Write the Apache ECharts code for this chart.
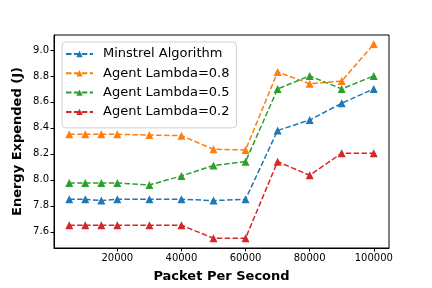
<!DOCTYPE html>
<html>
<head>
<meta charset="utf-8">
<script src="https://cdn.jsdelivr.net/npm/echarts@6/dist/echarts.min.js"></script>
<style>
html,body{margin:0;padding:0;background:#fff;}
#c{width:432px;height:288px;}
</style>
</head>
<body>
<div id="c"></div>
<script>
var packets = [5000, 10000, 15000, 20000, 30000, 40000, 50000, 60000, 70000, 80000, 90000, 100000];
var minstrel = [7.85, 7.85, 7.84, 7.85, 7.85, 7.85, 7.84, 7.85, 8.38, 8.46, 8.59, 8.70];
var lambda08 = [8.35, 8.35, 8.35, 8.35, 8.345, 8.34, 8.235, 8.23, 8.83, 8.74, 8.76, 9.045];
var lambda05 = [7.975, 7.975, 7.975, 7.975, 7.96, 8.03, 8.11, 8.14, 8.70, 8.80, 8.70, 8.80];
var lambda02 = [7.65, 7.65, 7.65, 7.65, 7.65, 7.65, 7.55, 7.55, 8.14, 8.035, 8.205, 8.205];
var seriesNames = ['Minstrel Algorithm', 'Agent Lambda=0.8', 'Agent Lambda=0.5', 'Agent Lambda=0.2'];
var colors = ['#1f77b4', '#ff7f0e', '#2ca02c', '#d62728'];
var xTicks = [20000, 40000, 60000, 80000, 100000];
var yTicks = [7.6, 7.8, 8.0, 8.2, 8.4, 8.6, 8.8, 9.0];

var allData = [minstrel, lambda08, lambda05, lambda02];
var font = 'DejaVu Sans';

function mk(name, vals, color) {
  return {
    name: name,
    type: 'line',
    data: packets.map(function (p, i) { return [p, vals[i]]; }),
    symbol: 'triangle',
    symbolSize: 8,
    color: color,
    lineStyle: { width: 1.5, type: [5.5, 2.4], color: color },
    itemStyle: { color: color },
    animation: false
  };
}

var chart = echarts.init(document.getElementById('c'), null, { renderer: 'canvas' });
chart.setOption({
  backgroundColor: '#fff',
  animation: false,
  grid: { left: 54, right: 43, top: 35, bottom: 36, show: true, borderColor: '#000', borderWidth: 1, containLabel: false },
  legend: {
    left: 62, top: 42,
    orient: 'vertical',
    backgroundColor: 'rgba(255,255,255,0.8)',
    borderColor: '#d0d0d0', borderWidth: 1, borderRadius: 4,
    padding: [5, 7, 9, 3],
    itemWidth: 27, itemHeight: 8, itemGap: 5.3,
    textStyle: { fontFamily: font, fontSize: 13, color: '#000', lineHeight: 14, padding: [0, 0, 0, 5] },
    data: seriesNames
  },
  xAxis: {
    type: 'value',
    min: 250, max: 104750,
    name: 'Packet Per Second',
    nameLocation: 'middle',
    nameGap: 22,
    nameMoveOverlap: false,
    nameTextStyle: { fontFamily: font, fontSize: 13, fontWeight: 'bold', color: '#000' },
    axisLine: { show: true, onZero: false, lineStyle: { color: '#000', width: 1 } },
    axisTick: { show: true, length: 3.5, lineStyle: { color: '#000' }, customValues: xTicks },
    axisLabel: { fontFamily: font, fontSize: 10, color: '#000', margin: 5, customValues: xTicks,
      formatter: function (v) { return String(Math.round(v)); } },
    splitLine: { show: false }
  },
  yAxis: {
    type: 'value',
    min: 7.475, max: 9.115,
    name: 'Energy Expended (J)',
    nameLocation: 'middle',
    nameGap: 30,
    nameMoveOverlap: false,
    nameTextStyle: { fontFamily: font, fontSize: 13, fontWeight: 'bold', color: '#000' },
    axisLine: { show: true, onZero: false, lineStyle: { color: '#000', width: 1 } },
    axisTick: { show: true, length: 3.5, lineStyle: { color: '#000' }, customValues: yTicks },
    axisLabel: { fontFamily: font, fontSize: 10, color: '#000', margin: 5, customValues: yTicks,
      formatter: function (v) { return v.toFixed(1); } },
    splitLine: { show: false }
  },
  series: allData.map(function (d, i) { return mk(seriesNames[i], d, colors[i]); })
});
</script>
</body>
</html>
